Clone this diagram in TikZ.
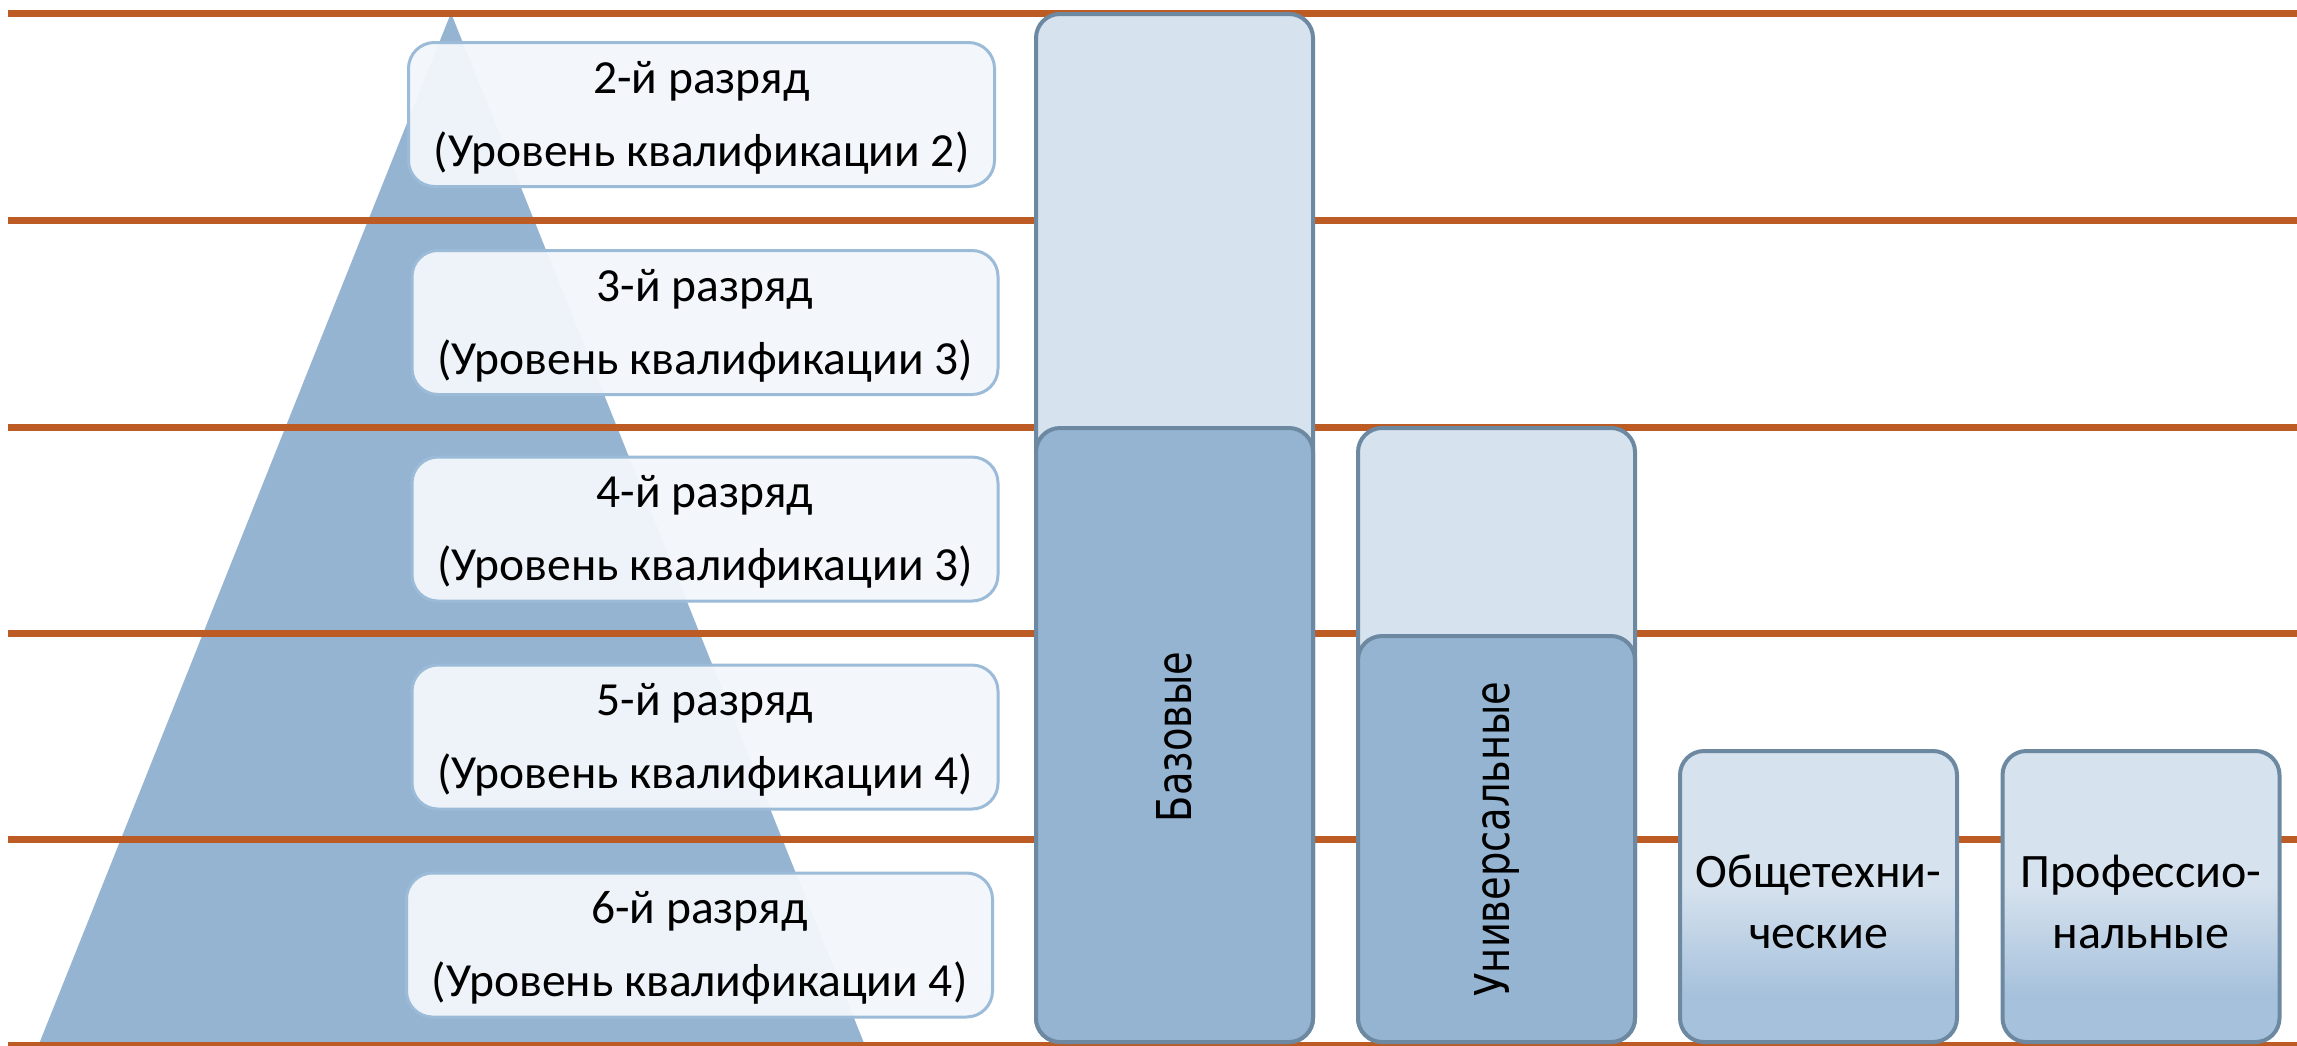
\documentclass[tikz,border=0pt]{standalone}
\usepackage{fontspec}
\setmainfont{Carlito}
\newfontfamily\vfont{DejaVu Sans}
\definecolor{orng}{HTML}{BD5B25}
\definecolor{tri}{HTML}{95B4D2}
\definecolor{lite}{HTML}{D6E2EE}
\definecolor{dark}{HTML}{95B4D2}
\definecolor{bord}{HTML}{6D89A2}
\definecolor{sbord}{HTML}{9CBBD9}
\definecolor{sfill}{HTML}{F3F7FB}
\definecolor{gbot}{HTML}{A6C1DC}
\pgfdeclareverticalshading{gshade}{100bp}{color(0bp)=(gbot); color(33bp)=(gbot); color(52bp)=(lite); color(100bp)=(lite)}
\tikzset{
  oline/.style={draw=orng, line width=7pt},
  rbox/.style={draw=sbord, line width=3pt, fill=sfill, fill opacity=0.94, text opacity=1, rounded corners=26pt, minimum width=586pt, minimum height=144pt, inner sep=0pt},
  colbox/.style={draw=bord, line width=4pt, rounded corners=24pt, minimum width=277pt, inner sep=0pt},
  colL/.style={colbox, fill=lite},
  colD/.style={colbox, fill=dark},
  colG/.style={colbox, shading=gshade},
  rtext/.style={font=\fontsize{47.5}{73}\selectfont, align=center},
  gtext/.style={font=\fontsize{48}{61}\selectfont, align=center},
  vtext/.style={font=\vfont\fontsize{48}{58}\selectfont, rotate=90}
}
\begin{document}
\begin{tikzpicture}[x=1pt,y=-1pt]
\useasboundingbox (0,0) rectangle (2297,1045);
\clip (0,0) rectangle (2297,1045);
\fill[white] (0,0) rectangle (2297,1045);
% pyramid
\fill[tri] (451,13) -- (36.6,1050) -- (866.8,1050) -- cycle;
% orange lines
\foreach \yy in {13,220,427,633,839,1045}{
  \draw[oline] (8,\yy) -- (2297,\yy);
}
% rank boxes
\node[rbox] (r2) at (701.5,114.5) {};
\node[rbox] (r3) at (705,322.5) {};
\node[rbox] (r4) at (705,529) {};
\node[rbox] (r5) at (705,737) {};
\node[rbox] (r6) at (699.5,945) {};
\node[rtext] (t2) at ([yshift=-3pt]r2.center) {2-й разряд\\(Уровень квалификации 2)};
\node[rtext] (t3) at ([yshift=-3pt]r3.center) {3-й разряд\\(Уровень квалификации 3)};
\node[rtext] (t4) at ([yshift=-3pt]r4.center) {4-й разряд\\(Уровень квалификации 3)};
\node[rtext] (t5) at ([yshift=-3pt]r5.center) {5-й разряд\\(Уровень квалификации 4)};
\node[rtext] (t6) at ([yshift=-3pt]r6.center) {6-й разряд\\(Уровень квалификации 4)};
% columns
\node[colL, minimum height=1028pt] (bazL) at (1174.5,528) {};
\node[colD, minimum height=614pt] (bazD) at (1174.5,735) {};
\node[vtext] (bazT) at (1174.5,737) {\scalebox{0.8}[1]{Базовые}};
\node[colL, minimum height=614pt] (uniL) at (1496.5,735) {};
\node[colD, minimum height=406pt] (uniD) at (1496.5,839) {};
\node[vtext] (uniT) at (1497,839) {\scalebox{0.8}[1]{Универсальные}};
\node[colG, minimum height=291pt] (gen) at (1818.5,896.5) {};
\node[gtext] (genT) at (1818.5,902) {Общетехни-\\ческие};
\node[colG, minimum height=291pt] (prof) at (2141,896.5) {};
\node[gtext] (profT) at (2141,902) {Профессио-\\нальные};
\end{tikzpicture}
\end{document}
